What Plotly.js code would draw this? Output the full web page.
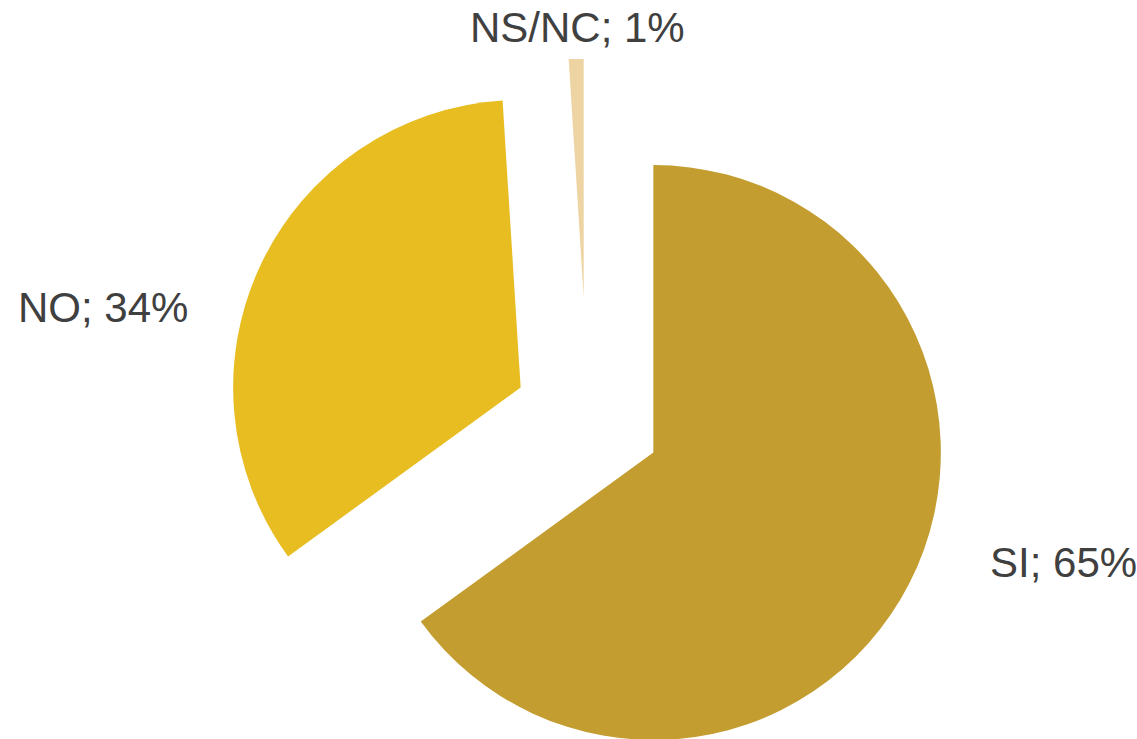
<!DOCTYPE html>
<html>
<head>
<meta charset="utf-8">
<script src="https://cdn.plot.ly/plotly-3.0.1.min.js"></script>
<style>
  html, body { margin: 0; padding: 0; overflow: hidden; background: #fff; }
  #myDiv { width: 1137px; height: 838px; }
</style>
</head>
<body>
<div id="myDiv"></div>
<script>
var labels = ['SI', 'NO', 'NS/NC'];
var values = [65, 34, 1];
var colors = ['#C39D30', '#E7BD22', '#EDD4A2'];
var pulls = [0.257, 0.257, 0.424];

// label placement (paper coords) next to each slice
var labelX = [0.9354, 0.0910, 0.5079];
var labelY = [0.3282, 0.6325, 0.9666];

var trace1 = {
  type: 'pie',
  labels: labels,
  values: values,
  sort: false,
  direction: 'clockwise',
  rotation: 0,
  pull: pulls,
  marker: {colors: colors, line: {width: 0}},
  textinfo: 'none',
  hoverinfo: 'label+percent',
  domain: {x: [0.15664, 0.87678], y: [0, 1]},
  showlegend: false
};

var annotations = labels.map(function (lab, i) {
  return {
    text: lab + '; ' + values[i] + '%',
    x: labelX[i],
    y: labelY[i],
    xref: 'paper',
    yref: 'paper',
    xanchor: 'center',
    yanchor: 'middle',
    showarrow: false,
    font: {family: 'Liberation Sans, Arial, sans-serif', size: 42, color: '#404040'}
  };
});

var layout = {
  width: 1137,
  height: 838,
  margin: {l: 0, r: 0, t: 0, b: 0},
  paper_bgcolor: '#ffffff',
  annotations: annotations,
  // plot area edge clips the far-pulled small slice
  shapes: [{
    type: 'rect', xref: 'paper', yref: 'paper',
    x0: 0.475, x1: 0.545, y0: 0.9296, y1: 1,
    fillcolor: '#ffffff', line: {width: 0}, layer: 'above'
  }]
};

Plotly.newPlot('myDiv', [trace1], layout, {displayModeBar: false});
</script>
</body>
</html>
